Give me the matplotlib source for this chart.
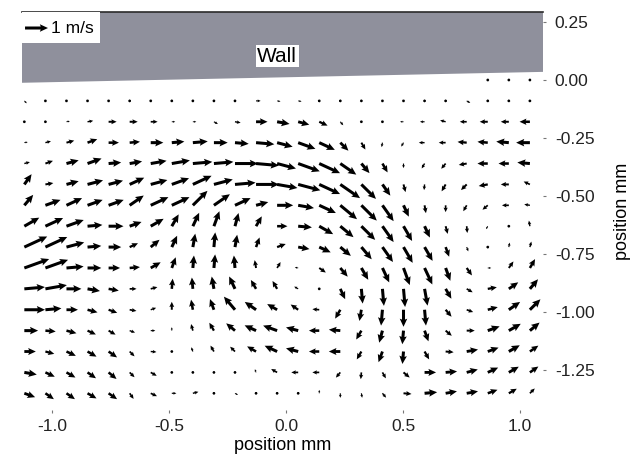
import numpy as np
import matplotlib
matplotlib.use("Agg")
import matplotlib.pyplot as plt
from matplotlib.patches import Polygon, Rectangle

plt.rcParams['font.family'] = ['Liberation Sans', 'DejaVu Sans']
plt.rcParams['axes.unicode_minus'] = False

# measurement grid (mm): 25 columns, 16 rows below the wall
x_grid = -1.118 + 0.09 * np.arange(25)
y_grid = -0.09 * np.arange(16)

nan = np.nan
# speed in m/s, one row per y position (top to bottom)
speed = np.array([
    [nan] * 22 + [0.1, 0.1, 0.1],
    [0.15, 0.1, 0.1, 0.1, 0.1, 0.12, 0.1, 0.12, 0.1, 0.1, 0.12, 0.2, 0.15, 0.15, 0.12, 0.1, 0.1, 0.1, 0.1, 0.1, 0.12, 0.18, 0.12, 0.12, 0.12],
    [0.1, 0.12, 0.15, 0.25, 0.35, 0.35, 0.3, 0.15, 0.15, 0.2, 0.25, 0.5, 0.55, 0.5, 0.4, 0.2, 0.1, 0.1, 0.15, 0.2, 0.25, 0.3, 0.35, 0.35, 0.45],
    [0.15, 0.25, 0.35, 0.45, 0.45, 0.45, 0.55, 0.55, 0.65, 0.6, 0.6, 0.8, 0.7, 0.8, 0.75, 0.5, 0.35, 0.2, 0.2, 0.25, 0.3, 0.4, 0.45, 0.55, 0.6],
    [0.25, 0.35, 0.55, 0.65, 0.55, 0.55, 0.7, 0.8, 0.85, 0.85, 1.0, 1.0, 0.85, 1.0, 1.0, 0.85, 0.55, 0.45, 0.2, 0.25, 0.3, 0.35, 0.45, 0.45, 0.55],
    [0.55, 0.35, 0.55, 0.7, 0.65, 0.7, 0.75, 0.8, 0.9, 0.85, 0.9, 1.0, 0.9, 1.0, 1.0, 1.05, 0.9, 0.6, 0.35, 0.25, 0.35, 0.35, 0.4, 0.35, 0.3],
    [0.6, 0.7, 0.75, 0.7, 0.7, 0.75, 0.85, 0.85, 0.9, 0.85, 0.75, 0.55, 0.7, 0.7, 0.8, 0.95, 0.95, 0.85, 0.55, 0.35, 0.3, 0.3, 0.3, 0.3, 0.25],
    [0.75, 0.85, 0.8, 0.65, 0.65, 0.55, 0.65, 0.6, 0.65, 0.7, 0.6, 0.5, 0.45, 0.6, 0.7, 0.75, 0.85, 0.85, 0.75, 0.55, 0.35, 0.3, 0.15, 0.1, 0.25],
    [1.1, 1.05, 0.8, 0.6, 0.55, 0.4, 0.5, 0.55, 0.6, 0.65, 0.55, 0.45, 0.4, 0.5, 0.55, 0.6, 0.7, 0.8, 0.8, 0.7, 0.45, 0.2, 0.1, 0.2, 0.25],
    [1.15, 1.05, 0.75, 0.6, 0.5, 0.45, 0.5, 0.5, 0.55, 0.6, 0.55, 0.35, 0.3, 0.15, 0.35, 0.5, 0.6, 0.7, 0.8, 0.8, 0.6, 0.4, 0.15, 0.35, 0.45],
    [0.9, 0.95, 0.65, 0.55, 0.45, 0.3, 0.3, 0.45, 0.5, 0.55, 0.6, 0.45, 0.4, 0.2, 0.12, 0.5, 0.65, 0.75, 0.8, 0.75, 0.5, 0.3, 0.4, 0.5, 0.55],
    [0.9, 0.7, 0.5, 0.45, 0.4, 0.3, 0.25, 0.35, 0.45, 0.5, 0.75, 0.6, 0.5, 0.4, 0.3, 0.45, 0.5, 0.7, 0.75, 0.7, 0.4, 0.3, 0.45, 0.6, 0.65],
    [0.6, 0.45, 0.45, 0.4, 0.35, 0.25, 0.2, 0.15, 0.3, 0.4, 0.5, 0.55, 0.65, 0.55, 0.45, 0.5, 0.45, 0.55, 0.6, 0.5, 0.35, 0.35, 0.55, 0.6, 0.55],
    [0.5, 0.4, 0.45, 0.45, 0.45, 0.3, 0.25, 0.12, 0.2, 0.3, 0.3, 0.45, 0.6, 0.55, 0.45, 0.5, 0.4, 0.5, 0.55, 0.4, 0.35, 0.5, 0.5, 0.55, 0.45],
    [0.55, 0.45, 0.45, 0.45, 0.45, 0.3, 0.3, 0.1, 0.1, 0.1, 0.1, 0.15, 0.3, 0.3, 0.3, 0.3, 0.3, 0.3, 0.35, 0.5, 0.5, 0.5, 0.5, 0.5, 0.45],
    [0.5, 0.45, 0.45, 0.45, 0.45, 0.3, 0.3, 0.2, 0.25, 0.1, 0.15, 0.1, 0.1, 0.1, 0.15, 0.2, 0.2, 0.25, 0.35, 0.55, 0.5, 0.5, 0.45, 0.4, 0.3],
])
# flow direction in degrees (0 = +x, 90 = towards the wall)
angle = np.array([
    [nan] * 22 + [0, 0, 0],
    [-45, 0, 0, 0, 0, -30, 0, -20, 0, 0, 0, 0, -10, -10, -20, -30, -45, 0, 0, -30, -30, -30, -20, -20, -30],
    [0, 10, 10, 10, 0, 0, 0, 0, 0, -30, -10, 0, -10, -15, -25, -50, -60, 0, 180, 180, 165, 180, 180, 180, 180],
    [10, 15, 15, 20, 0, 5, 0, 5, 5, 0, -5, -5, -15, -20, -25, -45, -60, -100, -120, 180, 180, 175, 175, 175, 180],
    [15, 20, 15, 20, 5, 10, 10, 10, 5, 5, 0, -5, -15, -20, -25, -35, -50, -60, -90, -120, -130, -170, 180, 180, 175],
    [55, 10, 15, 15, 15, 25, 15, 20, 25, 15, 5, 0, -10, -15, -25, -35, -45, -55, -75, -95, -120, -135, -170, 180, 155],
    [50, 20, 25, 20, 20, 35, 25, 25, 45, 35, 25, 15, 0, -10, -25, -40, -45, -55, -65, -80, -90, -120, -140, 180, 170],
    [30, 25, 20, 5, 0, 20, 30, 60, 65, 70, 75, 60, 0, -5, -30, -40, -45, -55, -60, -65, -75, -85, -120, 90, 100],
    [25, 25, 15, 5, 0, 25, 40, 65, 80, 85, 80, 70, 20, -10, -25, -40, -50, -55, -60, -60, -70, -70, -45, 80, 75],
    [20, 20, 5, 0, 0, 5, 30, 70, 85, 85, 95, 100, 60, 170, -35, -50, -60, -65, -70, -65, -70, -55, 0, 55, 60],
    [5, 10, 0, -10, -10, 0, 15, 85, 95, 100, 115, 120, 120, 150, -120, -65, -85, -85, -85, -80, -60, -30, 10, 35, 50],
    [0, 5, 0, -15, -20, -10, 20, 90, 100, 110, 130, 145, 150, 145, 175, -120, -100, -95, -90, -85, -50, -20, 15, 35, 45],
    [0, -5, -15, -25, -30, -20, 0, 90, 105, 120, 140, 155, 160, 165, 180, 175, -120, -105, -95, -70, -40, 0, 20, 30, 40],
    [0, -15, -25, -30, -35, -45, -5, 0, 110, 120, 135, 150, 155, 165, 180, 180, -120, -110, -95, -60, -5, 10, 20, 30, 35],
    [-10, -25, -30, -35, -40, -45, -30, 0, 0, 0, 0, 110, 150, 180, 180, -130, -95, -60, -40, 0, 5, 15, 25, 30, 35],
    [-20, -35, -35, -30, -35, -55, -25, 0, 15, 0, -30, 0, 0, 0, 90, -90, -80, -50, -5, 5, 10, 10, 20, 30, 45],
])

X, Y = np.meshgrid(x_grid, y_grid)
U = speed * np.cos(np.radians(angle))
V = speed * np.sin(np.radians(angle))

fig = plt.figure(figsize=(6.44, 4.54), dpi=100)
ax = fig.add_axes([22 / 644, 1 - 410 / 454, 521 / 644, 398 / 454])
ax.set_xlim(-1.128, 1.098)
ax.set_ylim(-1.422, 0.293)

# wall
wall = Polygon([(-1.128, 0.293), (1.098, 0.293), (1.098, 0.035), (-1.128, -0.012)],
               closed=True, fc='#8f909c', ec='none', zorder=1)
ax.add_patch(wall)
ax.plot([-1.128, 1.098], [0.293, 0.293], color='#2b2b2b', lw=1.2, clip_on=False, zorder=2)

q = ax.quiver(X, Y, U, V, pivot='tail', angles='xy', scale_units='xy', scale=10.2,
              width=0.0058, headwidth=2.5, headlength=2.7, headaxislength=2.4,
              minshaft=1.5, color='black', zorder=3)

ax.add_patch(Rectangle((-1.128, 0.16), 0.335, 0.133, fc='white', ec='none', zorder=4))
key = ax.quiverkey(q, -1.017, 0.224, 1.0, '1 m/s', coordinates='data', labelpos='E',
                   labelsep=0.03, fontproperties={'size': 12.5})
key.set_zorder(5)

ax.text(-0.038, 0.103, 'Wall', ha='center', va='center', fontsize=15, zorder=5,
        bbox=dict(fc='white', ec='none', pad=1.0))

for s in ax.spines.values():
    s.set_visible(False)
ax.set_xticks([-1.0, -0.5, 0.0, 0.5, 1.0])
ax.set_xticklabels(['-1.0', '-0.5', '0.0', '0.5', '1.0'])
ax.set_yticks([0.25, 0.0, -0.25, -0.5, -0.75, -1.0, -1.25])
ax.set_yticklabels(['0.25', '0.00', '-0.25', '-0.50', '-0.75', '-1.00', '-1.25'])
ax.yaxis.tick_right()
ax.yaxis.set_label_position('right')
ax.tick_params(axis='both', length=2.5, width=0.8, color='#777777', labelcolor='#222222',
               labelsize=12.5)
ax.tick_params(axis='y', pad=6)
ax.tick_params(axis='x', pad=4)
ax.set_xlabel('position mm', fontsize=13, labelpad=2)
ax.set_ylabel('position mm', fontsize=13, labelpad=14)

fig.savefig('out.png', dpi=100)
